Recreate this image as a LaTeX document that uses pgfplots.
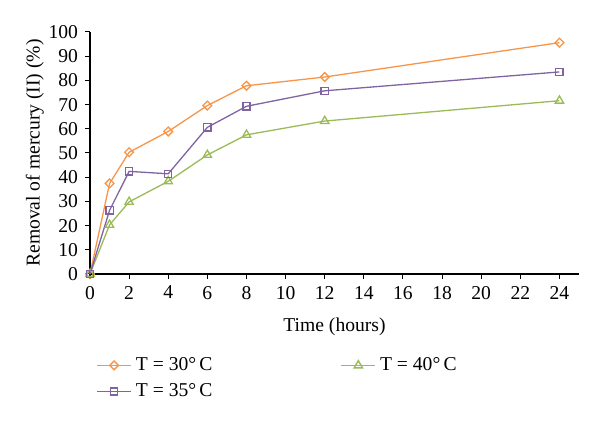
\documentclass[border=0pt]{standalone}
\usepackage{fontspec}
\setmainfont{Liberation Serif}
\usepackage{pgfplots}
\pgfplotsset{compat=1.18}
\definecolor{corange}{HTML}{F7964A}
\definecolor{cpurple}{HTML}{8064A2}
\definecolor{cgreen}{HTML}{9BBB59}
\begin{document}
\begin{tikzpicture}
\useasboundingbox (-45pt,-79pt) rectangle (255pt,137pt);
\begin{axis}[
  at={(0,0)}, anchor=south west,
  scale only axis, width=244.5pt, height=121pt,
  xmin=0, xmax=25, ymin=0, ymax=100,
  axis x line*=bottom, axis y line*=left,
  axis line style={line width=0.6pt},
  xtick={0,2,...,24}, ytick={0,10,...,100},
  tick align=outside, major tick length=2.5pt,
  tick style={black, line width=0.5pt},
  font=\fontsize{9.8}{11}\selectfont,
  /pgf/number format/assume math mode=true,
  xlabel={Time (hours)}, ylabel={Removal of mercury (II) (\%)},
  xlabel style={yshift=-2.5pt}, ylabel style={yshift=-4.5pt},
  clip=false,
  legend columns=2,
  legend style={draw=none, at={(0,-0.31)}, anchor=north west, font=\fontsize{9.8}{11}\selectfont,
    /tikz/every even column/.append style={column sep=62pt}, row sep=1pt},
  legend cell align=left,
  legend image post style={line width=0.7pt},
  every axis plot/.append style={line width=0.65pt, mark options={solid, fill=white}},
]
\addplot[corange, mark=square, mark size=1.55pt, mark options={rotate=45}] coordinates {(0,0) (1,37.4) (2,50.3) (4,58.9) (6,69.6) (8,77.8) (12,81.4) (24,95.6)};
\addlegendentry{T = 30\textdegree\,C}
\addplot[cgreen, mark=triangle, mark size=2.4pt] coordinates {(0,0) (1,20.3) (2,29.8) (4,38.3) (6,49.2) (8,57.5) (12,63.2) (24,71.6)};
\addlegendentry{T = 40\textdegree\,C}
\addplot[cpurple, mark=square, mark size=1.8pt] coordinates {(0,0) (1,26.3) (2,42.4) (4,41.4) (6,60.6) (8,69.3) (12,75.7) (24,83.5)};
\addlegendentry{T = 35\textdegree\,C}
\end{axis}
\end{tikzpicture}
\end{document}
